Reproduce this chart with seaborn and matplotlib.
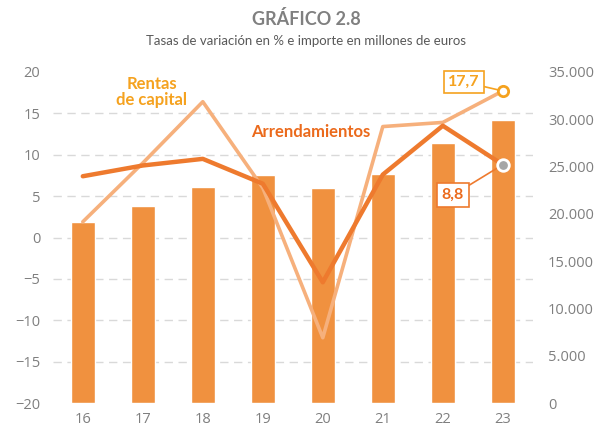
import numpy as np
import pandas as pd
import seaborn as sns
import matplotlib.pyplot as plt

years = ['16', '17', '18', '19', '20', '21', '22', '23']
importe = [19100, 20800, 22800, 24100, 22700, 24200, 27450, 29900]
arrendamientos = [7.4, 8.7, 9.5, 6.5, -5.4, 7.6, 13.5, 8.8]
rentas_capital = [1.9, 9.0, 16.4, 6.0, -12.1, 13.4, 13.9, 17.7]
left_ticks = [-20, -15, -10, -5, 0, 5, 10, 15, 20]
right_ticks = [0, 5000, 10000, 15000, 20000, 25000, 30000, 35000]
right_labels = ['0', '5.000', '10.000', '15.000', '20.000', '25.000', '30.000', '35.000']

data = pd.DataFrame({'year': years, 'importe': importe,
                     'arrendamientos': arrendamientos, 'rentas': rentas_capital})

sns.set_style('white')
plt.rcParams['font.family'] = ['Open Sans', 'DejaVu Sans']

bar_color = '#F0913F'
arr_color = '#EE7A2E'
rent_color = '#F6B07C'
gold = '#F5A21F'
tick_color = '#7F7F7F'

fig = plt.figure(figsize=(6, 4.28), dpi=100)
ax = fig.add_axes([0.088, 0.058, 0.8, 0.774])

# bars: importe (right axis)
sns.barplot(data=data, x='year', y='importe', color=bar_color, width=0.4,
            saturation=1, ax=ax)
ax.set_ylim(0, 35000)
ax.set_xlim(-0.5, 7.5)
# gridlines follow the left axis ticks, drawn behind the bars
ax.set_yticks([(v + 20) / 40 * 35000 for v in left_ticks], minor=True)
ax.yaxis.grid(True, which='minor', color='#D9D9D9', linestyle=(0, (6, 4)), linewidth=1)
ax.yaxis.grid(False, which='major')
ax.set_axisbelow(True)
ax.set_xlabel('')
ax.set_ylabel('')
for s in ax.spines.values():
    s.set_visible(False)

# lines: tasas de variacion (left axis)
ax2 = ax.twinx()
sns.lineplot(data=data, x='year', y='rentas', color=rent_color, linewidth=2.6, ax=ax2)
sns.lineplot(data=data, x='year', y='arrendamientos', color=arr_color, linewidth=3.2, ax=ax2)
last = data.iloc[[-1]]
sns.scatterplot(data=last, x='year', y='rentas', color='white', edgecolor=gold,
                linewidth=2, s=55, zorder=5, ax=ax2)
sns.scatterplot(data=last, x='year', y='arrendamientos', color='#A6A6A6', edgecolor='white',
                linewidth=2, s=70, zorder=5, ax=ax2)
ax2.set_ylim(-20, 20)
ax2.set_xlim(-0.5, 7.5)
ax2.yaxis.tick_left()
ax2.set_yticks(left_ticks)
ax2.tick_params(axis='y', length=0, pad=9, labelsize=10.5, labelcolor=tick_color)
ax2.set_ylabel('')
ax2.set_xlabel('')
for s in ax2.spines.values():
    s.set_visible(False)

# right axis for importe (after twinx, which resets tick side)
ax.yaxis.tick_right()
ax.set_yticks(right_ticks, labels=right_labels)
ax.tick_params(axis='y', which='minor', length=0, left=False, right=False)
ax.tick_params(axis='y', which='major', length=0, pad=11, labelsize=10.5, labelcolor=tick_color)
ax.tick_params(axis='x', length=0, pad=6, labelsize=10.5, labelcolor=tick_color)

# value callouts
ax2.annotate(f"{rentas_capital[-1]:.1f}".replace('.', ','), xy=(7, rentas_capital[-1]),
             xytext=(-28, 6.5), textcoords='offset points', ha='center', va='center',
             fontsize=11.5, fontweight='bold', color=gold, family=['Lato', 'DejaVu Sans'],
             bbox=dict(boxstyle='square,pad=0.25', fc='white', ec=gold, lw=1.2),
             arrowprops=dict(arrowstyle='-', color=gold, lw=1.2, shrinkA=0, shrinkB=4))
ax2.annotate(f"{arrendamientos[-1]:.1f}".replace('.', ','), xy=(7, arrendamientos[-1]),
             xytext=(-36, -22), textcoords='offset points', ha='center', va='center',
             fontsize=11.5, fontweight='bold', color='#EB6A1C', family=['Lato', 'DejaVu Sans'],
             bbox=dict(boxstyle='square,pad=0.3', fc='white', ec=arr_color, lw=1.2),
             arrowprops=dict(arrowstyle='-', color=arr_color, lw=1.2, shrinkA=0, shrinkB=4))

# series labels
ax2.text(1.15, 17.6, 'Rentas\nde capital', ha='center', va='center', fontsize=12,
         fontweight='bold', color=gold, linespacing=1.0, family=['Lato', 'DejaVu Sans'])
ax2.text(3.8, 12.8, 'Arrendamientos', ha='center', va='center', fontsize=12,
         fontweight='bold', color='#EB6A1C', family=['Lato', 'DejaVu Sans'])

fig.text(0.51, 0.955, 'GRÁFICO 2.8', ha='center', va='center', fontsize=13,
         fontweight='bold', color='#808080', family=['Lato', 'DejaVu Sans'])
fig.text(0.51, 0.905, 'Tasas de variación en % e importe en millones de euros', ha='center',
         va='center', fontsize=9.5, color='#595959', family=['Lato', 'DejaVu Sans'])

fig.savefig('out.png', dpi=100)
